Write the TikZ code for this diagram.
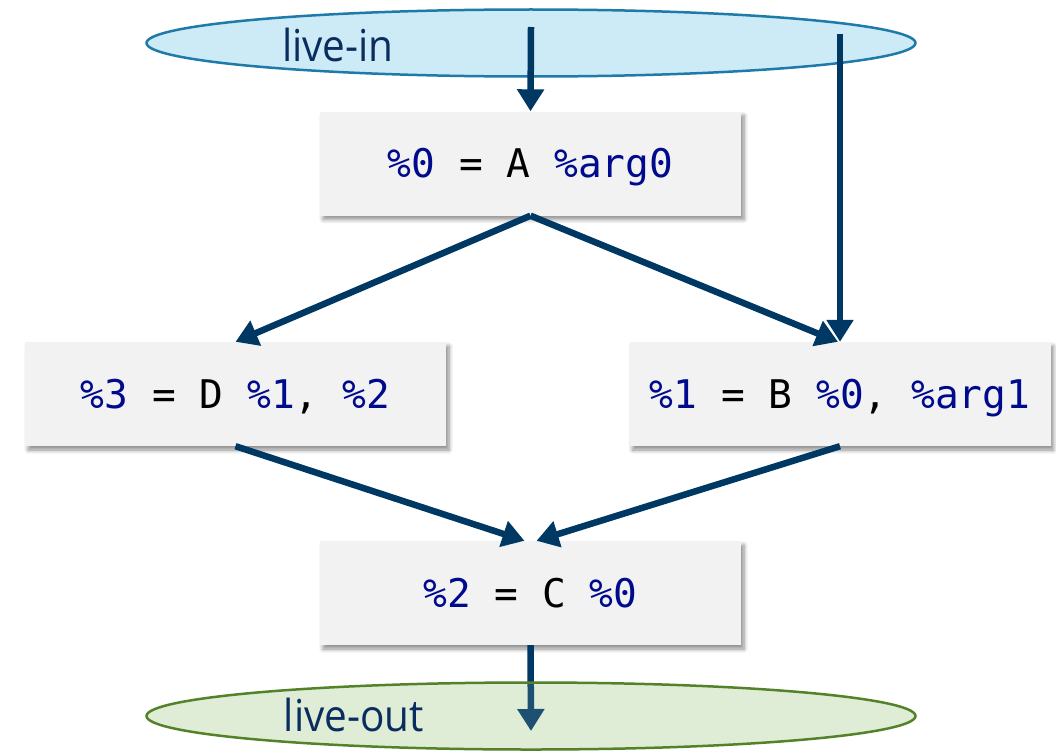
\documentclass[tikz,border=0pt]{standalone}
\usepackage{fontspec}
\setmainfont{Open Sans}
\newfontfamily\labelfont[FakeStretch=0.92]{Open Sans}
\newfontfamily\codefont{DejaVu Sans Mono}
\usetikzlibrary{arrows.meta,shapes.geometric,shadows.blur}

\definecolor{boxgray}{RGB}{242,242,242}
\definecolor{codeblue}{RGB}{0,10,140}
\definecolor{flowblue}{RGB}{0,56,100}
\definecolor{infill}{RGB}{205,234,247}
\definecolor{inborder}{RGB}{30,122,168}
\definecolor{outfill}{RGB}{226,239,217}
\definecolor{outborder}{RGB}{84,130,40}
\definecolor{labelblue}{RGB}{10,45,95}

\newcommand{\reg}[1]{\textcolor{codeblue}{#1}}

\begin{document}
\begin{tikzpicture}[x=1pt,y=-1pt,
  instr/.style={fill=boxgray, minimum width=421pt, minimum height=104pt,
    inner sep=0pt, text height=28.5pt, text depth=0pt,
    font=\codefont\fontsize{39.5}{39.5}\selectfont,
    blur shadow={shadow xshift=3pt, shadow yshift=-4pt,
      shadow blur steps=6, shadow blur radius=4pt, shadow opacity=45}},
  liveset/.style={ellipse, minimum width=769pt, minimum height=67pt, inner sep=0pt},
  setlabel/.style={anchor=base, text=labelblue, font=\labelfont\fontsize{44}{44}\selectfont},
  flow/.style={draw=flowblue, line width=6.5pt,
    -{Triangle[width=26pt,length=22pt]}}]

\useasboundingbox (0,0) rectangle (1056,752);

% live-in set
\node[liveset, fill=infill, draw=inborder, line width=2.5pt] (in) at (531,43) {};
\node[setlabel] (inlabel) at (338,61) {live-in};

% instructions
\node[instr] (A) at (530.5,163.5) {\reg{\%0} = A \reg{\%arg0}};
\node[instr] (D) at (235.5,394)   {\reg{\%3} = D \reg{\%1}, \reg{\%2}};
\node[instr] (B) at (840,394)     {\reg{\%1} = B \reg{\%0}, \reg{\%arg1}};
\node[instr] (C) at (530.5,593)   {\reg{\%2} = C \reg{\%0}};

% live-out set (fill underneath the outgoing edge)
\node[liveset, fill=outfill] (out) at (531,716) {};

% edge starts and ends inside the sets
\coordinate (inL) at (531,27);
\coordinate (inR) at (840,34);
\coordinate (outT) at (531,731);

% dataflow edges
\draw[flow] (inL) -- (A.north);
\draw[flow] (inR) -- (B.north);
\draw[flow] (A.south) -- (D.north);
\draw[flow] (A.south) -- ([xshift=-2pt]B.north);
\draw[flow] (D.south) -- ([xshift=-6pt]C.north);
\draw[flow] (B.south) -- ([xshift=6pt]C.north);
\draw[flow] (C.south) -- (outT);

% live-out outline and tint laid over the edge
\draw[draw=outborder, line width=2.5pt, fill=outborder!12!outfill, fill opacity=0.14]
  (out.center) ellipse [x radius=384.5pt, y radius=33.5pt];
\node[setlabel] (outlabel) at (354,731) {live-out};

\end{tikzpicture}
\end{document}
